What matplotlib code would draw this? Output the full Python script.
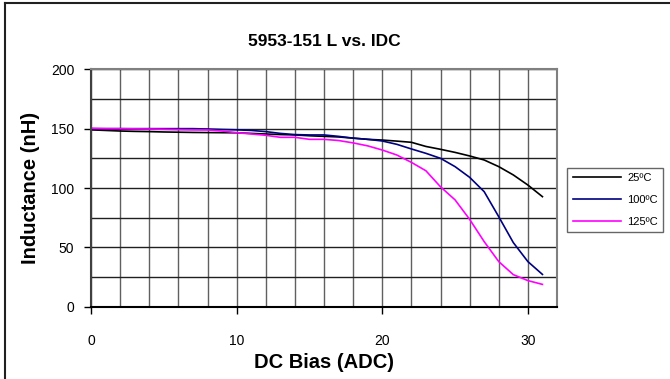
import matplotlib
matplotlib.use("Agg")
import matplotlib.pyplot as plt
from matplotlib.ticker import MultipleLocator
from matplotlib.lines import Line2D

plt.rcParams['font.family'] = ['Liberation Sans', 'DejaVu Sans']

# DC bias current (A)
bias = list(range(32))

# inductance (nH)
l_25 = [149, 148.5, 148, 147.7, 147.5, 147.2, 147, 146.8, 146.7, 146.6, 146.5,
        146, 145.5, 145, 144.7, 144, 143.5, 143, 142, 141, 140.4, 139.5, 138.5,
        135, 132.6, 130, 127, 123.6, 118, 111, 102.5, 92.7]
l_100 = [150, 150, 150, 150, 150, 150, 150, 150, 149.7, 149.3, 149, 148.5,
         147.5, 146, 145, 144.7, 144.7, 143.5, 142, 141, 139.6, 136.8, 132.9,
         129.2, 125, 118, 109, 96.9, 75.8, 54, 38, 27.2]
l_125 = [150.3, 150, 150, 149.8, 149.7, 149.5, 149.2, 149, 148.9, 148, 146.6,
         145.5, 144.4, 142.7, 142.7, 141, 141, 140, 138, 135.5, 132, 127.8,
         121.6, 114.5, 101, 90, 73.6, 54.8, 38, 27, 22, 18.8]

labels = ['25ºC', '100ºC', '125ºC']
colors = ['black', '#000080', '#ff00ff']

fig = plt.figure(figsize=(6.7, 3.79), dpi=100)
ax = fig.add_axes([91/670, 1 - 306.7/379, 466/670, 237.4/379])

for y, lab, c in zip([l_25, l_100, l_125], labels, colors):
    ax.plot(bias, y, color=c, lw=1.2, label=lab)

ax.set_xlim(0, 32)
ax.set_ylim(0, 200)
ax.xaxis.set_major_locator(MultipleLocator(10))
ax.xaxis.set_minor_locator(MultipleLocator(2))
ax.yaxis.set_major_locator(MultipleLocator(50))
ax.yaxis.set_minor_locator(MultipleLocator(25))
ax.grid(which='both', axis='x', color='#606060', lw=1)
ax.grid(which='both', axis='y', color='#202020', lw=1)
ax.set_axisbelow(True)
ax.tick_params(which='minor', length=0)
ax.tick_params(which='major', length=5, width=1, labelsize=10)
ax.tick_params(axis='x', pad=15)
ax.tick_params(axis='y', pad=7)

for s in ['top', 'right']:
    ax.spines[s].set_color('#808080')
    ax.spines[s].set_linewidth(1.5)
ax.spines['left'].set_color('#404040')
ax.spines['bottom'].set_color('black')
ax.spines['left'].set_linewidth(1.5)
ax.spines['bottom'].set_linewidth(1.5)

ax.set_xlabel('DC Bias (ADC)', fontsize=14.5, fontweight='bold', labelpad=3)
ax.set_ylabel('Inductance (nH)', fontsize=14.5, fontweight='bold', labelpad=8)
fig.text(324/670, 1 - 42/379, '5953-151 L vs. IDC', fontsize=12.5,
         fontweight='bold', ha='center', va='center')

leg = ax.legend(loc='center left', bbox_to_anchor=(567/670, 1 - 200/379),
                bbox_transform=fig.transFigure, fontsize=8, frameon=True,
                fancybox=False, edgecolor='#404040', handlelength=4.4,
                handletextpad=0.5, labelspacing=1.05, borderaxespad=0,
                borderpad=0.5)
leg.get_frame().set_linewidth(1)

# outer frame lines
fig.add_artist(Line2D([5/670, 5/670], [0, 1 - 3/379], color='#202020', lw=1.5,
                      transform=fig.transFigure))
fig.add_artist(Line2D([5/670, 1], [1 - 3/379, 1 - 3/379], color='#202020',
                      lw=1.5, transform=fig.transFigure))

fig.savefig('out.png', dpi=100)
